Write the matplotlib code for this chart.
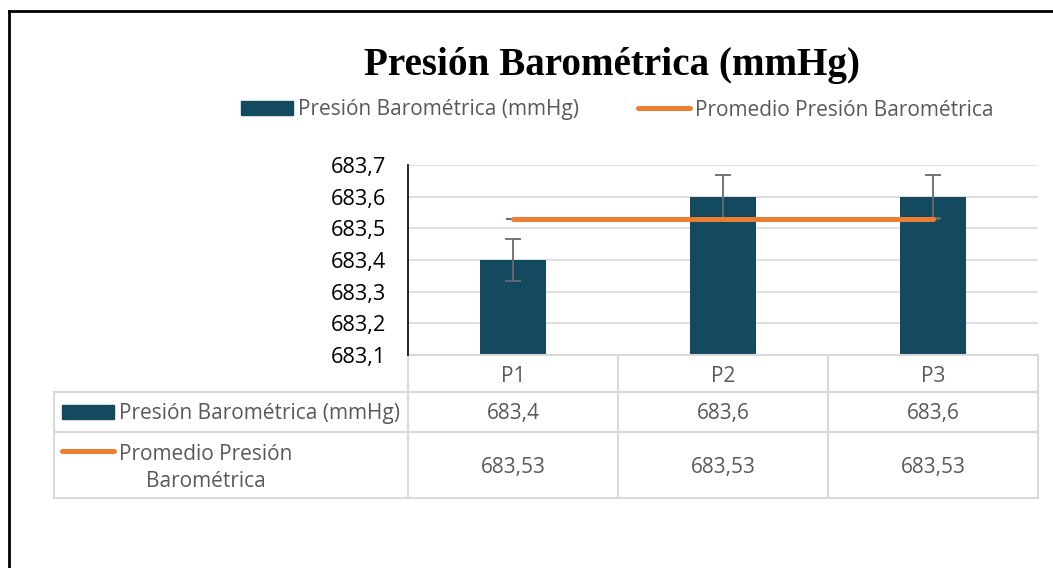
import matplotlib
matplotlib.use("Agg")
import matplotlib.pyplot as plt
from matplotlib.patches import Rectangle
from matplotlib.lines import Line2D
from matplotlib.transforms import blended_transform_factory
import numpy as np

# ---- data ----
categories = ["P1", "P2", "P3"]
presion = [683.4, 683.6, 683.6]
promedio = [683.53, 683.53, 683.53]
error_presion = [0.067, 0.067, 0.067]
y_ticks = [683.1, 683.2, 683.3, 683.4, 683.5, 683.6, 683.7]
title = "Presión Barométrica (mmHg)"
series1_name = "Presión Barométrica (mmHg)"
series2_name = "Promedio Presión Barométrica"
series2_name_table = "Promedio Presión\nBarométrica"

W, H = 1053, 568
BAR_C = "#134A60"
ORANGE = "#ED7D31"
GRAY_TXT = "#595959"
GRID = "#D9D9D9"
FONT = "Open Sans"
FS = 15

fig = plt.figure(figsize=(W / 100, H / 100), dpi=100)

def fx(px):
    return px / W

def fy(py):
    return 1 - py / H

# axes: x 408..1038, y 165..355
ax = fig.add_axes([fx(408), fy(355), fx(1038) - fx(408), fy(165) - fy(355)])
x = np.arange(len(categories))
ax.bar(x, presion, width=0.31, color=BAR_C, zorder=2)
ax.errorbar(x, presion, yerr=error_presion, fmt="none", ecolor="#6a6a6a",
            elinewidth=1.3, capsize=6, capthick=1.3, zorder=3)
ax.errorbar(x, promedio, yerr=[0, 0, 0], fmt="none", ecolor="#6a6a6a",
            elinewidth=1.3, capsize=5, capthick=1.3, zorder=3)
ax.plot(x, promedio, color=ORANGE, lw=3.6, solid_capstyle="round", zorder=4)

ax.set_xlim(-0.5, len(categories) - 0.5)
ax.set_ylim(y_ticks[0], y_ticks[-1])
ax.set_yticks(y_ticks)
ax.set_yticklabels([f"{v:.1f}".replace(".", ",") for v in y_ticks],
                   fontsize=15.7, family=FONT, color="#000000")
ax.tick_params(axis="y", length=0, pad=16)
ax.tick_params(axis="x", length=0, labelbottom=False)
ax.yaxis.grid(True, color=GRID, lw=1.2, zorder=0)
ax.set_axisbelow(True)
for s in ["top", "right", "bottom"]:
    ax.spines[s].set_visible(False)
ax.spines["left"].set_color("#000000")
ax.spines["left"].set_linewidth(1.2)

# ---- data table ----
tb = blended_transform_factory(ax.transData, fig.transFigure)
row_y = [355, 392, 432, 498]
tl = dict(color=GRID, lw=1.5, clip_on=False)
for py in row_y:
    ax.add_line(Line2D([-0.5, len(categories) - 0.5], [fy(py), fy(py)], transform=tb, **tl))
for py in row_y[1:]:
    fig.add_artist(Line2D([fx(54), fx(408)], [fy(py), fy(py)], color=GRID, lw=1.5))
for b in np.arange(-0.5, len(categories)):
    ax.add_line(Line2D([b, b], [fy(355), fy(498)], transform=tb, **tl))
fig.add_artist(Line2D([fx(54), fx(54)], [fy(392), fy(498)], color=GRID, lw=1.5))

for i, c in enumerate(categories):
    ax.text(i, fy(376), c, transform=tb, ha="center", va="center",
            fontsize=FS, family=FONT, color=GRAY_TXT)
    ax.text(i, fy(414), f"{presion[i]:.1f}".replace(".", ","), transform=tb,
            ha="center", va="center", fontsize=FS, family=FONT, color=GRAY_TXT)
    ax.text(i, fy(467), f"{promedio[i]:.2f}".replace(".", ","), transform=tb,
            ha="center", va="center", fontsize=FS, family=FONT, color=GRAY_TXT)

# row headers
fig.add_artist(Rectangle((fx(62), fy(419)), fx(114) - fx(62), fy(405) - fy(419),
                         color=BAR_C, transform=fig.transFigure))
fig.text(fx(119), fy(414), series1_name, ha="left", va="center",
         fontsize=FS, family=FONT, color=GRAY_TXT)
fig.add_artist(Line2D([fx(62), fx(114)], [fy(451), fy(451)], color=ORANGE, lw=3.6,
                      solid_capstyle="round"))
fig.text(fx(206), fy(468), series2_name_table, ha="center", va="center",
         fontsize=FS, family=FONT, color=GRAY_TXT, linespacing=1.4)

# ---- legend ----
fig.add_artist(Rectangle((fx(241), fy(115)), fx(293) - fx(241), fy(101) - fy(115),
                         color=BAR_C, transform=fig.transFigure))
fig.text(fx(298), fy(110), series1_name, ha="left", va="center",
         fontsize=FS, family=FONT, color=GRAY_TXT)
fig.add_artist(Line2D([fx(638), fx(690)], [fy(108), fy(108)], color=ORANGE, lw=3.6,
                      solid_capstyle="round"))
fig.text(fx(695), fy(110), series2_name, ha="left", va="center",
         fontsize=FS, family=FONT, color=GRAY_TXT)

# ---- title ----
fig.text(fx(612), fy(65), title, ha="center", va="center", fontsize=28.2,
         family="Liberation Serif", weight="bold", color="#000000")

# ---- outer border ----
fig.add_artist(Line2D([fx(9), fx(9)], [fy(11), 0], color="black", lw=2))
fig.add_artist(Line2D([fx(9), 1], [fy(11), fy(11)], color="black", lw=2))

fig.savefig("out.png", dpi=100)
